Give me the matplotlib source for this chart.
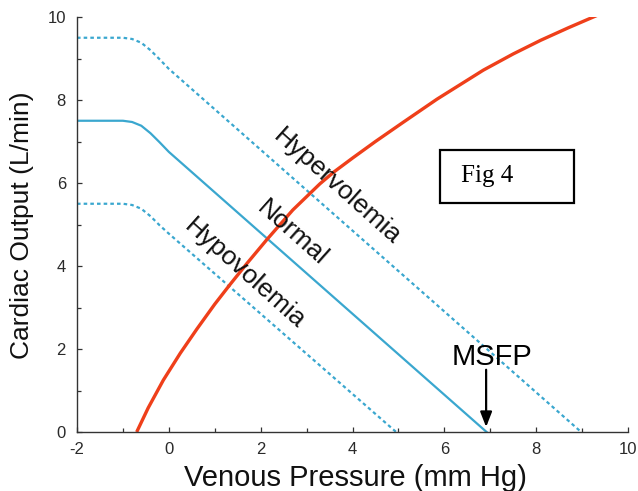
import matplotlib
matplotlib.use("Agg")
import matplotlib.pyplot as plt
from matplotlib.patches import Rectangle
from matplotlib.ticker import MultipleLocator

# ---- data ----
normal_x = [-2.0, -1.0, -0.8, -0.6, -0.4, -0.2, 0.0, 6.92]
normal_y = [7.5, 7.5, 7.47, 7.38, 7.2, 6.98, 6.75, 0.0]

hyper_x = [-2.0, -1.0, -0.8, -0.6, -0.4, -0.2, 0.0, 8.98]
hyper_y = [9.5, 9.5, 9.47, 9.38, 9.2, 8.98, 8.75, 0.0]

hypo_x = [-2.0, -1.0, -0.8, -0.6, -0.4, -0.2, 0.0, 4.95]
hypo_y = [5.5, 5.5, 5.47, 5.38, 5.2, 4.98, 4.78, 0.0]

cardiac_x = [-0.70, -0.45, -0.12, 0.25, 0.61, 1.0, 1.33, 1.7, 2.13, 2.7, 3.29,
             3.6, 4.0, 4.5, 5.1, 5.84, 6.85, 7.5, 8.1, 8.7, 9.35]
cardiac_y = [0.00, 0.58, 1.25, 1.90, 2.48, 3.08, 3.55, 4.06, 4.63, 5.35, 5.98,
             6.27, 6.60, 7.00, 7.46, 8.02, 8.72, 9.11, 9.44, 9.74, 10.05]

x_ticks = [-2, 0, 2, 4, 6, 8, 10]
y_ticks = [0, 2, 4, 6, 8, 10]

BLUE = "#3aa7cf"
RED = "#ef3f1a"
AX = "#333333"

plt.rcParams['font.family'] = ['Liberation Sans', 'DejaVu Sans']

fig = plt.figure(figsize=(6.38, 4.91), dpi=100)
ax = fig.add_axes([77/638, 59/491, 551/638, 415/491])

ax.plot(hyper_x, hyper_y, color=BLUE, lw=1.6, linestyle=(0, (1.6, 1.4)))
ax.plot(hypo_x, hypo_y, color=BLUE, lw=1.6, linestyle=(0, (1.6, 1.4)))
ax.plot(normal_x, normal_y, color=BLUE, lw=1.6)
ax.plot(cardiac_x, cardiac_y, color=RED, lw=2.4, solid_capstyle='butt')

ax.set_xlim(-2, 10)
ax.set_ylim(0, 10)
ax.set_xticks(x_ticks)
ax.set_yticks(y_ticks)
ax.set_xticklabels([str(v) for v in x_ticks])
ax.set_yticklabels([str(v) for v in y_ticks])
ax.xaxis.set_minor_locator(MultipleLocator(1))
ax.yaxis.set_minor_locator(MultipleLocator(1))

for s in ['top', 'right']:
    ax.spines[s].set_visible(False)
for s in ['left', 'bottom']:
    ax.spines[s].set_color(AX)
    ax.spines[s].set_linewidth(1.0)

ax.tick_params(axis='both', which='both', direction='in', color=AX, width=0.9)
ax.tick_params(axis='both', which='major', length=3.5, labelsize=12, labelcolor='#2a2a2a')
ax.tick_params(axis='both', which='minor', length=3)
ax.tick_params(axis='x', which='major', pad=7)
ax.tick_params(axis='y', which='major', pad=8)

ax.set_xlabel("Venous Pressure (mm Hg)", fontsize=21, color='#111111')
ax.xaxis.label.set_va('center')
ax.xaxis.set_label_coords(0.506, -0.111)
ax.set_ylabel("Cardiac Output (L/min)", fontsize=19, color='#111111')
ax.yaxis.label.set_va('center')
ax.yaxis.set_label_coords(-0.099, 0.498)

rot = -41.7
ax.text(3.66, 5.91, "Hypervolemia", fontsize=19, rotation=rot, rotation_mode='anchor',
        ha='center', va='center', color='#111111')
ax.text(2.68, 4.79, "Normal", fontsize=19, rotation=rot, rotation_mode='anchor',
        ha='center', va='center', color='#111111')
ax.text(1.66, 3.81, "Hypovolemia", fontsize=19, rotation=rot, rotation_mode='anchor',
        ha='center', va='center', color='#111111')

ax.text(7.03, 1.81, "MSFP", fontsize=21, ha='center', va='center', color='black')
ax.annotate("", xy=(6.91, 0.12), xytext=(6.91, 1.5),
            arrowprops=dict(arrowstyle='-|>,head_length=0.9,head_width=0.35',
                            color='black', lw=1.6, shrinkA=0, shrinkB=0))

box = Rectangle((0.659, 0.552), 0.243, 0.128, transform=ax.transAxes,
                fill=False, edgecolor='black', lw=1.6)
ax.add_patch(box)
ax.text(0.697, 0.616, "Fig 4", transform=ax.transAxes, fontsize=18,
        family=['Liberation Serif', 'DejaVu Serif'], ha='left', va='center', color='black')

fig.savefig("out.png", dpi=100)
